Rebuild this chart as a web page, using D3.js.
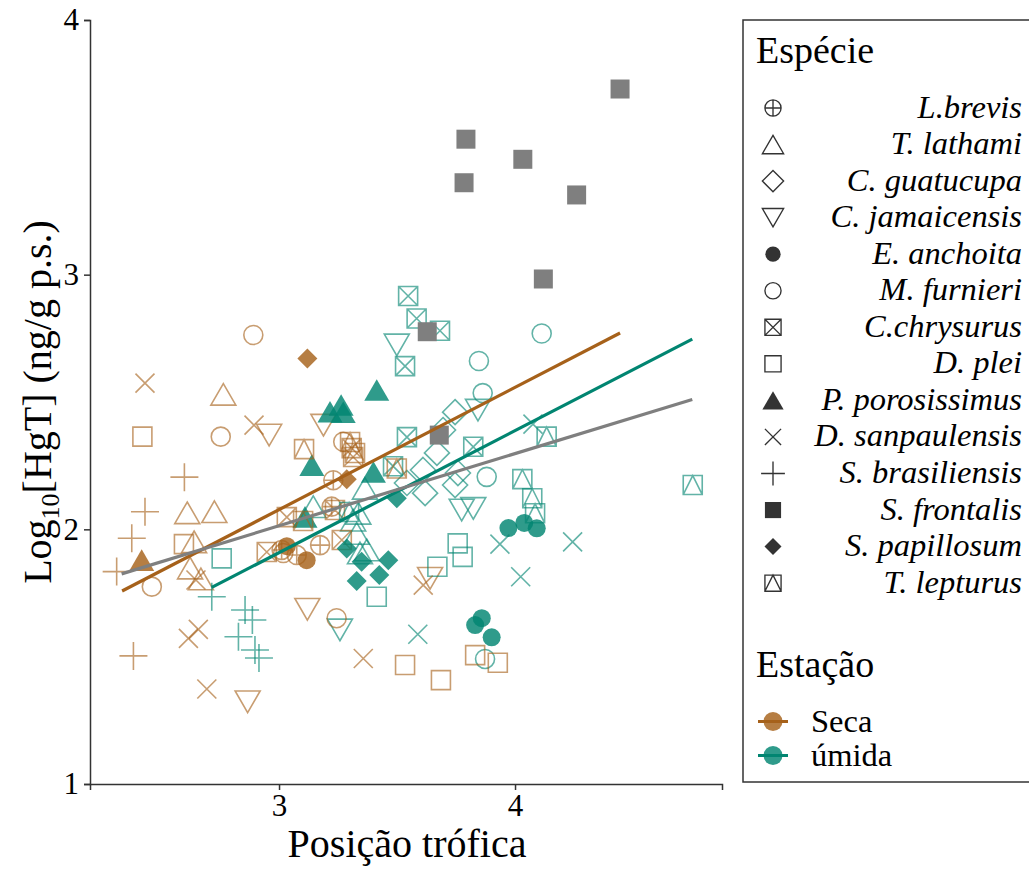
<!DOCTYPE html>
<html>
<head>
<meta charset="utf-8">
<script src="https://cdn.jsdelivr.net/npm/d3@7"></script>
<style>
  body { margin: 0; background: #fff; }
  svg { font-family: "Liberation Serif", "Times New Roman", serif; }
</style>
</head>
<body>
<svg id="chart" width="1029" height="870"></svg>
<script>
// --- Data ---

// legend order of species and the ggplot-like shape used for each
const speciesNames = ['L.brevis', 'T. lathami', 'C. guatucupa', 'C. jamaicensis', 'E. anchoita',
    'M. furnieri', 'C.chrysurus', 'D. plei', 'P. porosissimus', 'D. sanpaulensis',
    'S. brasiliensis', 'S. frontalis', 'S. papillosum', 'T. lepturus'];
const speciesShapes = ['circlePlus', 'triUp', 'diamond', 'triDown', 'dot',
    'circle', 'squareX', 'square', 'triFilled', 'cross',
    'plus', 'squareFilled', 'diamondFilled', 'squareTri'];

const seasonNames = ['Seca', 'úmida'];
const seasonColors = ['#A6611A', '#018571'];
const naColor = '#7F7F7F';

const xTicks = [3, 4];
const yTicks = [1, 2, 3, 4];

// points as [posição trófica, log10 HgT]
const lBrevisSeca = [[3.011, 1.919], [3.075, 1.899], [3.174, 1.938], [3.230, 2.193], [3.223, 2.089]];
const tLathamiSeca = [[2.764, 2.530], [2.611, 2.065], [2.726, 2.069], [2.640, 1.951], [2.623, 1.848], [2.669, 1.805]];
const tLathamiUmida = [[3.145, 2.089], [3.336, 2.063], [3.329, 1.984], [3.372, 1.919], [3.364, 2.161], [3.314, 2.036], [3.343, 1.907]];
const cGuatucupaUmida = [[3.746, 2.460], [3.695, 2.390], [3.669, 2.300], [3.610, 2.233], [3.758, 2.221], [3.746, 2.174], [3.542, 2.182], [3.619, 2.142]];
const cJamaicensisSeca = [[2.958, 2.370], [3.188, 2.409], [3.120, 1.686], [3.640, 1.808], [2.867, 1.323]];
const cJamaicensisUmida = [[3.499, 2.724], [3.843, 2.468], [3.258, 1.605], [3.774, 2.076], [3.823, 2.082]];
const eAnchoitaSeca = [[3.033, 1.934], [3.117, 1.879]];
const eAnchoitaUmida = [[3.972, 2.005], [4.039, 2.025], [4.092, 2.004], [3.859, 1.651], [3.831, 1.624], [3.901, 1.576]];
const mFurnieriSeca = [[2.891, 2.763], [2.753, 2.364], [2.461, 1.775], [3.272, 2.344], [3.244, 1.651], [3.018, 1.907]];
const mFurnieriUmida = [[4.113, 2.769], [3.847, 2.661], [3.863, 2.535], [3.880, 2.206], [3.873, 1.491]];
const cChrysurusSeca = [[3.033, 2.048], [2.948, 1.911], [3.266, 1.958], [3.237, 2.076], [3.308, 2.319], [3.314, 2.284]];
const cChrysurusUmida = [[3.547, 2.916], [3.583, 2.828], [3.682, 2.780], [3.534, 2.641], [3.542, 2.362], [3.823, 2.324], [3.483, 2.248]];
const dPleiSeca = [[2.421, 2.364], [2.597, 1.942], [3.534, 1.467], [3.686, 1.408], [3.831, 1.506], [3.927, 1.476]];
const dPleiUmida = [[2.757, 1.886], [3.414, 1.735], [3.671, 1.853], [3.757, 1.945], [3.778, 1.892]];
const pPorosissimusSeca = [[2.418, 1.879]];
const pPorosissimusUmida = [[3.414, 2.547], [3.216, 2.462], [3.263, 2.488], [3.272, 2.460], [3.139, 2.252], [3.400, 2.225], [3.110, 2.049]];
const dSanpaulensisSeca = [[2.432, 2.574], [2.894, 2.409], [2.658, 1.607], [2.616, 1.572], [2.694, 1.373], [3.357, 1.493], [3.611, 1.781], [2.648, 1.801]];
const dSanpaulensisUmida = [[4.076, 2.413], [3.936, 1.942], [4.244, 1.951], [4.024, 1.814], [3.588, 1.588]];
const sBrasiliensisSeca = [[2.599, 2.205], [2.432, 2.069], [2.376, 1.965], [2.312, 1.834], [2.383, 1.503]];
const sBrasiliensisUmida = [[2.715, 1.735], [2.856, 1.683], [2.887, 1.644], [2.828, 1.578], [2.898, 1.526], [2.915, 1.495]];
const sFrontalis = [[4.445, 3.729], [3.792, 3.532], [4.033, 3.453], [3.784, 3.361], [4.261, 3.313], [4.120, 2.983], [3.628, 2.776], [3.679, 2.370]];
const sPapillosumSeca = [[3.120, 2.671], [3.287, 2.197]];
const sPapillosumUmida = [[3.287, 1.925], [3.350, 1.873], [3.463, 1.879], [3.425, 1.821], [3.329, 1.797], [3.499, 2.122]];
const tLepturusSeca = [[3.106, 2.315], [3.102, 2.033], [3.322, 2.300], [3.499, 2.239], [3.301, 2.343]];
const tLepturusUmida = [[4.134, 2.364], [4.031, 2.197], [4.073, 2.122], [4.085, 2.063], [4.753, 2.174], [3.297, 2.068]];

// fitted lines, end points
const fitSeca = [[2.335, 1.758], [4.445, 2.771]];
const fitUmida = [[2.715, 1.772], [4.751, 2.747]];
const fitAll = [[2.333, 1.825], [4.751, 2.510]];

// species index, season (null = no season) and the points
const groups = [
    [0, 'Seca', lBrevisSeca],
    [1, 'Seca', tLathamiSeca], [1, 'úmida', tLathamiUmida],
    [2, 'úmida', cGuatucupaUmida],
    [3, 'Seca', cJamaicensisSeca], [3, 'úmida', cJamaicensisUmida],
    [4, 'Seca', eAnchoitaSeca], [4, 'úmida', eAnchoitaUmida],
    [5, 'Seca', mFurnieriSeca], [5, 'úmida', mFurnieriUmida],
    [6, 'Seca', cChrysurusSeca], [6, 'úmida', cChrysurusUmida],
    [7, 'Seca', dPleiSeca], [7, 'úmida', dPleiUmida],
    [8, 'Seca', pPorosissimusSeca], [8, 'úmida', pPorosissimusUmida],
    [9, 'Seca', dSanpaulensisSeca], [9, 'úmida', dSanpaulensisUmida],
    [10, 'Seca', sBrasiliensisSeca], [10, 'úmida', sBrasiliensisUmida],
    [11, null, sFrontalis],
    [12, 'Seca', sPapillosumSeca], [12, 'úmida', sPapillosumUmida],
    [13, 'Seca', tLepturusSeca], [13, 'úmida', tLepturusUmida]
];

// --- Shapes ---

const filledShapes = ['dot', 'triFilled', 'squareFilled', 'diamondFilled'];

// path for one marker centred on 0,0
function shapePath(kind) {
    const p = d3.path();
    const r = 9.5;
    if (kind === 'circle' || kind === 'circlePlus' || kind === 'dot') {
        const rr = kind === 'dot' ? 9 : r;
        p.moveTo(rr, 0);
        p.arc(0, 0, rr, 0, 2 * Math.PI);
        if (kind === 'circlePlus') {
            p.moveTo(-rr, 0); p.lineTo(rr, 0);
            p.moveTo(0, -rr); p.lineTo(0, rr);
        }
    } else if (kind === 'triUp' || kind === 'triFilled') {
        p.moveTo(0, -10.8); p.lineTo(12.5, 10.8); p.lineTo(-12.5, 10.8); p.closePath();
    } else if (kind === 'triDown') {
        p.moveTo(0, 10.8); p.lineTo(12.5, -10.8); p.lineTo(-12.5, -10.8); p.closePath();
    } else if (kind === 'diamond' || kind === 'diamondFilled') {
        const d = kind === 'diamond' ? 12.5 : 10;
        p.moveTo(0, -d); p.lineTo(d, 0); p.lineTo(0, d); p.lineTo(-d, 0); p.closePath();
    } else if (kind === 'square' || kind === 'squareFilled' || kind === 'squareX' || kind === 'squareTri') {
        p.rect(-r, -r, 2 * r, 2 * r);
        if (kind === 'squareX') {
            p.moveTo(-r, -r); p.lineTo(r, r);
            p.moveTo(r, -r); p.lineTo(-r, r);
        }
        if (kind === 'squareTri') {
            p.moveTo(-r, r); p.lineTo(0, -r); p.lineTo(r, r);
        }
    } else if (kind === 'cross') {
        p.moveTo(-r, -r); p.lineTo(r, r);
        p.moveTo(r, -r); p.lineTo(-r, r);
    } else if (kind === 'plus') {
        p.moveTo(-14, 0); p.lineTo(14, 0);
        p.moveTo(0, -14); p.lineTo(0, 14);
    }
    return p.toString();
}

function styleMarker(sel, kind, color, alpha) {
    if (filledShapes.includes(kind)) {
        sel.attr('fill', color).attr('fill-opacity', alpha).attr('stroke', 'none');
    } else {
        sel.attr('fill', 'none').attr('stroke', color).attr('stroke-opacity', alpha)
            .attr('stroke-width', 1.6);
    }
}

// --- Chart ---

const svg = d3.select('#chart');
const x = d3.scaleLinear().domain([2.199, 4.877]).range([90, 722]);
const y = d3.scaleLinear().domain([1, 4]).range([784, 20]);

function drawPoints() {
    const layer = svg.append('g');
    groups.forEach(([sp, season, pts]) => {
        const kind = speciesShapes[sp];
        const color = season ? seasonColors[seasonNames.indexOf(season)] : naColor;
        const alpha = season ? (filledShapes.includes(kind) ? 0.82 : 0.62) : 1;
        layer.selectAll(null)
            .data(pts)
            .enter()
            .append('path')
            .attr('d', shapePath(kind))
            .attr('transform', d => `translate(${x(d[0])},${y(d[1])})`)
            .call(styleMarker, kind, color, alpha);
    });
}

function drawFits() {
    const line = d3.line().x(d => x(d[0])).y(d => y(d[1]));
    [[fitSeca, seasonColors[0]], [fitUmida, seasonColors[1]], [fitAll, naColor]].forEach(([pts, color]) => {
        svg.append('path')
            .attr('d', line(pts))
            .attr('stroke', color)
            .attr('stroke-width', 3.2)
            .attr('fill', 'none');
    });
}

function drawAxes() {
    const xAxis = svg.append('g')
        .attr('transform', 'translate(0,784)')
        .call(d3.axisBottom(x).tickValues(xTicks).tickSizeOuter(0).tickSize(6).tickPadding(4).tickFormat(d3.format('d')));
    const yAxis = svg.append('g')
        .attr('transform', 'translate(90,0)')
        .call(d3.axisLeft(y).tickValues(yTicks).tickSizeOuter(0).tickSize(6).tickPadding(5).tickFormat(d3.format('d')));

    [xAxis, yAxis].forEach(a => {
        a.select('.domain').attr('stroke', '#333').attr('stroke-width', 1.5);
        a.selectAll('.tick line').attr('stroke', '#333').attr('stroke-width', 1.5);
        a.selectAll('.tick text')
            .attr('fill', '#000')
            .style('font-family', '"Liberation Serif", serif')
            .style('font-size', '31px');
    });

    svg.append('text')
        .attr('x', 407)
        .attr('y', 857)
        .attr('text-anchor', 'middle')
        .style('font-size', '40px')
        .text('Posição trófica');

    const yTitle = svg.append('text')
        .attr('transform', 'translate(51,402) rotate(-90)')
        .attr('text-anchor', 'middle')
        .style('font-size', '40px');
    yTitle.append('tspan').text('Log');
    yTitle.append('tspan').attr('dy', 8).style('font-size', '26px').text('10');
    yTitle.append('tspan').attr('dy', -8).text('[HgT] (ng/g p.s.)');
}

function drawLegend() {
    const g = svg.append('g');

    g.append('rect')
        .attr('x', 743).attr('y', 20)
        .attr('width', 320).attr('height', 762)
        .attr('fill', 'none').attr('stroke', '#333').attr('stroke-width', 1.5);

    g.append('text').attr('x', 756).attr('y', 63)
        .style('font-size', '38px').text('Espécie');

    speciesNames.forEach((name, i) => {
        const cy = 108 + i * 36.55;
        const kind = speciesShapes[i];
        g.append('path')
            .attr('d', shapePath(kind))
            .attr('transform', `translate(773,${cy}) scale(0.85)`)
            .call(styleMarker, kind, '#333', 1);
        g.append('text')
            .attr('x', 1022).attr('y', cy + 9.5)
            .attr('text-anchor', 'end')
            .style('font-size', '32.5px')
            .style('font-style', 'italic')
            .text(name);
    });

    g.append('text').attr('x', 756).attr('y', 677)
        .style('font-size', '38px').text('Estação');

    seasonNames.forEach((name, i) => {
        const cy = 721.5 + i * 34;
        g.append('circle')
            .attr('cx', 773).attr('cy', cy).attr('r', 9.5)
            .attr('fill', seasonColors[i]).attr('fill-opacity', 0.82);
        g.append('line')
            .attr('x1', 758).attr('x2', 788)
            .attr('y1', cy).attr('y2', cy)
            .attr('stroke', seasonColors[i]).attr('stroke-width', 3);
        g.append('text')
            .attr('x', 811).attr('y', cy + 10)
            .style('font-size', '32.5px')
            .text(name);
    });
}

drawPoints();
drawFits();
drawAxes();
drawLegend();
</script>
</body>
</html>
